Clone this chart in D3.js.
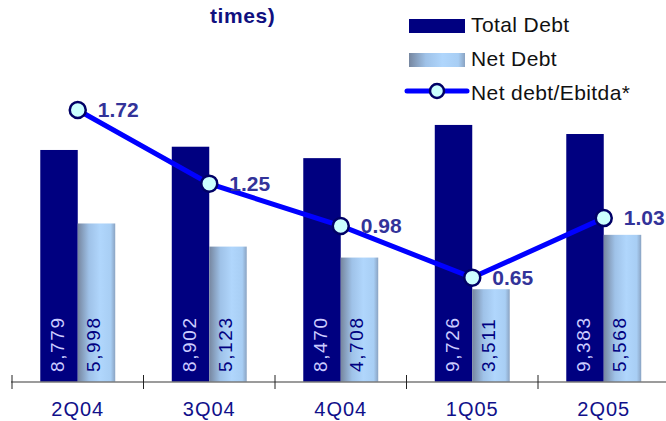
<!DOCTYPE html>
<html>
<head>
<meta charset="utf-8">
<script src="https://cdn.jsdelivr.net/npm/d3@7"></script>
<style>
  html, body { margin: 0; padding: 0; background: #fff; }
  svg { display: block; font-family: "Liberation Sans", Arial, sans-serif; }
</style>
</head>
<body>
<div id="chart"></div>
<script>
// chart data
const quarters = ['2Q04', '3Q04', '4Q04', '1Q05', '2Q05'];
const totalDebt = [8779, 8902, 8470, 9726, 9383];
const netDebt = [5998, 5123, 4708, 3511, 5568];
const netDebtEbitda = [1.72, 1.25, 0.98, 0.65, 1.03];
const seriesNames = ['Total Debt', 'Net Debt', 'Net debt/Ebitda*'];

const width = 666, height = 421;
const baseY = 382;

const svg = d3.select('#chart').append('svg')
  .attr('width', width)
  .attr('height', height);

// gradient for the net debt bars
const defs = svg.append('defs');
const grad = defs.append('linearGradient')
  .attr('id', 'netGrad')
  .attr('x1', '0%').attr('x2', '100%').attr('y1', '0%').attr('y2', '0%');
[[0, '#76869f'], [0.3, '#9fc2e8'], [0.6, '#b0d6fc'], [0.88, '#a8cef4'], [1, '#8aa3c2']]
  .forEach(s => grad.append('stop').attr('offset', s[0]).attr('stop-color', s[1]));

// scales
const x0 = d3.scaleBand().domain(quarters).range([12, 669.5]).padding(0);
const x1 = d3.scaleBand().domain(['total', 'net'])
  .range([x0.bandwidth() * 0.215, x0.bandwidth() * 0.785]);
const y = d3.scaleLinear().domain([0, 10000]).range([baseY, baseY - 264.3]);
const y2 = d3.scaleLinear().domain([0, 1.8]).range([379.5, 379.5 - 1.8 * 156.7]);

const rows = quarters.map((q, i) => ({
  q: q, total: totalDebt[i], net: netDebt[i], ratio: netDebtEbitda[i]
}));

const fmt = d3.format(',');

// bars
const groups = svg.append('g').selectAll('g')
  .data(rows)
  .join('g')
  .attr('transform', d => `translate(${x0(d.q)},0)`);

groups.append('rect')
  .attr('x', x1('total'))
  .attr('width', x1.bandwidth())
  .attr('y', d => y(d.total))
  .attr('height', d => baseY - y(d.total))
  .attr('fill', '#000080');

groups.append('rect')
  .attr('x', x1('net'))
  .attr('width', x1.bandwidth())
  .attr('y', d => y(d.net))
  .attr('height', d => baseY - y(d.net))
  .attr('fill', 'url(#netGrad)');

// values inside bars (rotated)
groups.append('text')
  .attr('transform', `translate(${x1('total') + x1.bandwidth() / 2},${baseY - 10}) rotate(-90)`)
  .attr('dy', 5)
  .attr('font-size', 19)
  .attr('letter-spacing', 1.6)
  .attr('fill', '#ccccff')
  .text(d => fmt(d.total));

groups.append('text')
  .attr('transform', `translate(${x1('net') + x1.bandwidth() / 2},${baseY - 10}) rotate(-90)`)
  .attr('dy', 4)
  .attr('font-size', 19)
  .attr('letter-spacing', 1.6)
  .attr('fill', '#000080')
  .text(d => fmt(d.net));

// x axis
svg.append('line')
  .attr('x1', 11).attr('x2', width)
  .attr('y1', baseY).attr('y2', baseY)
  .attr('stroke', '#7a7a7a').attr('stroke-width', 1.5);

svg.append('g').selectAll('line')
  .data(quarters)
  .join('line')
  .attr('x1', d => x0(d)).attr('x2', d => x0(d))
  .attr('y1', baseY - 7).attr('y2', baseY + 7)
  .attr('stroke', '#222').attr('stroke-width', 1);

svg.append('g').selectAll('text')
  .data(quarters)
  .join('text')
  .attr('x', d => x0(d) + x0.bandwidth() / 2)
  .attr('y', 416)
  .attr('text-anchor', 'middle')
  .attr('font-size', 20)
  .attr('letter-spacing', 1)
  .attr('fill', '#10108a')
  .text(d => d);

// ratio line
const cx = d => x0(d.q) + x0.bandwidth() / 2;
svg.append('path')
  .datum(rows)
  .attr('fill', 'none')
  .attr('stroke', '#0000ff')
  .attr('stroke-width', 5)
  .attr('d', d3.line().x(cx).y(d => y2(d.ratio)));

svg.append('g').selectAll('circle')
  .data(rows)
  .join('circle')
  .attr('cx', cx)
  .attr('cy', d => y2(d.ratio))
  .attr('r', 8)
  .attr('fill', '#ccffff')
  .attr('stroke', '#000066')
  .attr('stroke-width', 2.5);

svg.append('g').selectAll('text')
  .data(rows)
  .join('text')
  .attr('x', d => cx(d) + 20)
  .attr('y', d => y2(d.ratio) + 7)
  .attr('font-size', 21)
  .attr('font-weight', 'bold')
  .attr('fill', '#333399')
  .text(d => d3.format('.2f')(d.ratio));

// cut-off title
svg.append('text')
  .attr('x', 210).attr('y', 23)
  .attr('font-size', 21)
  .attr('font-weight', 'bold')
  .attr('letter-spacing', 0.6)
  .attr('fill', '#10107f')
  .text('times)');

// legend
const lg = svg.append('g');
lg.append('rect').attr('x', 409).attr('y', 19).attr('width', 56).attr('height', 14).attr('fill', '#000080');
lg.append('rect').attr('x', 409).attr('y', 53).attr('width', 56).attr('height', 14).attr('fill', 'url(#netGrad)');
lg.append('line').attr('x1', 407).attr('x2', 467).attr('y1', 91).attr('y2', 91)
  .attr('stroke', '#0000ff').attr('stroke-width', 5).attr('stroke-linecap', 'round');
lg.append('circle').attr('cx', 437).attr('cy', 91).attr('r', 7)
  .attr('fill', '#ccffff').attr('stroke', '#000066').attr('stroke-width', 2.5);

lg.selectAll('text.leg')
  .data(seriesNames)
  .join('text')
  .attr('class', 'leg')
  .attr('x', 471)
  .attr('y', (d, i) => [32, 66, 100][i])
  .attr('font-size', 21)
  .attr('letter-spacing', 0.4)
  .attr('fill', '#111')
  .text(d => d);
</script>
</body>
</html>
